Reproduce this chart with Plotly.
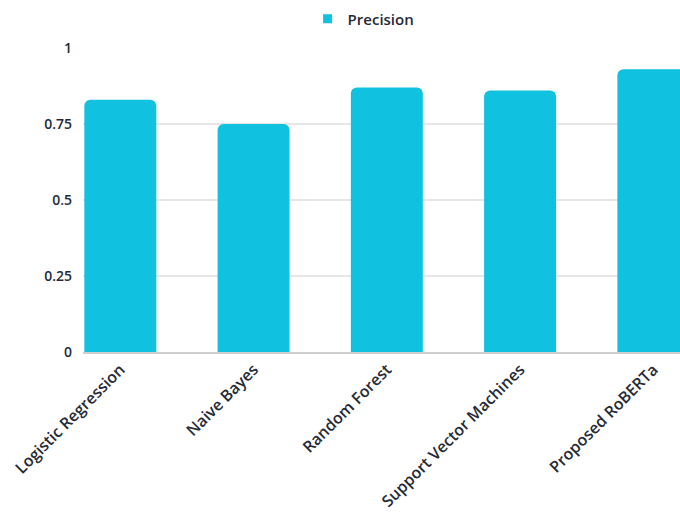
import plotly.graph_objects as go

categories = ["Logistic Regression", "Naive Bayes", "Random Forest", "Support Vector Machines", "Proposed RoBERTa"]
precision = [0.83, 0.75, 0.87, 0.86, 0.93]
y_ticks = [0, 0.25, 0.5, 0.75, 1]
y_tick_labels = ["0", "0.25", "0.5", "0.75", "1"]

FONT = "Open Sans"
TXT = "#252a36"
BAR = "#10C1E0"

fig = go.Figure()
fig.add_trace(go.Bar(
    x=list(range(len(categories))), y=precision, name="Precision",
    marker=dict(color=BAR, line=dict(width=0)),
    width=0.54, showlegend=False,
))
fig.add_trace(go.Scatter(
    x=[None], y=[None], mode="markers", name="Precision",
    marker=dict(symbol="square", size=9, color=BAR), showlegend=True,
))
fig.update_layout(
    width=680, height=517,
    margin=dict(l=83, r=0, t=48, b=165),
    paper_bgcolor="white", plot_bgcolor="white",
    font=dict(family=FONT, size=13, color=TXT),
    barcornerradius=6,
    showlegend=True,
    legend=dict(orientation="h", x=0.47, xanchor="center", y=1.095, yanchor="middle",
                font=dict(family=FONT, size=15, color=TXT, weight=600), itemwidth=30),
    xaxis=dict(
        range=[-0.28, 4.2], tickmode="array", tickvals=list(range(len(categories))),
        ticktext=categories, tickangle=-45, showgrid=False, zeroline=False,
        showline=True, linecolor="#cfcfcf", linewidth=2, ticks="",
        tickfont=dict(family=FONT, size=16, color=TXT, weight=600),
    ),
    yaxis=dict(
        range=[0, 1], tickmode="array", tickvals=y_ticks, ticktext=y_tick_labels,
        showgrid=True, gridcolor="#e6e6e6", gridwidth=1.5, zeroline=False,
        ticks="", ticklabelstandoff=10, showline=False,
        tickfont=dict(family=FONT, size=14, color=TXT, weight=600),
    ),
)
fig.write_html("out.html")
